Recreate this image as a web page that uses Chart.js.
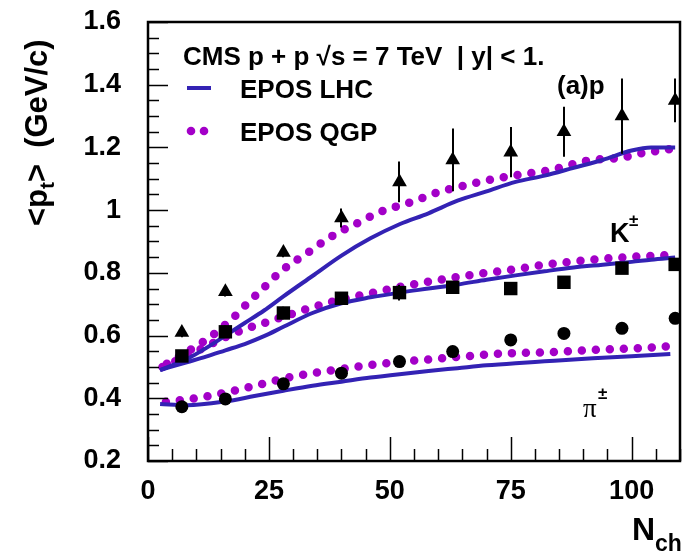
<!DOCTYPE html>
<html>
<head>
<meta charset="utf-8">
<script src="https://cdn.jsdelivr.net/npm/chart.js@4.4.0/dist/chart.umd.min.js"></script>
<style>
    body { margin: 0; background: #fff; }
    canvas { display: block; }
</style>
</head>
<body>
<canvas id="ptChart" width="683" height="555"></canvas>
<script>
// CMS data points: multiplicity bins and mean pt (GeV/c)
const nchBins = [7, 16, 28, 40, 52, 63, 75, 86, 98, 109];
const protonPt = [0.61, 0.74, 0.865, 0.975, 1.09, 1.16, 1.185, 1.25, 1.30, 1.35];
const protonErr = [0.015, 0.015, 0.015, 0.03, 0.065, 0.10, 0.08, 0.08, 0.12, 0.07];
const kaonPt = [0.535, 0.612, 0.672, 0.719, 0.737, 0.754, 0.75, 0.77, 0.815, 0.827];
const kaonErr = [0.01, 0.02, 0.02, 0.02, 0.025, 0.02, 0.01, 0.01, 0.01, 0.01];
const pionPt = [0.373, 0.398, 0.446, 0.48, 0.517, 0.549, 0.586, 0.607, 0.623, 0.655];
const pionErr = [0.01, 0.01, 0.01, 0.01, 0.01, 0.01, 0.01, 0.01, 0.01, 0.01];

// EPOS LHC curves
const lhcX = [2.5, 8, 12, 16, 20, 24, 28, 34, 40, 46, 52, 58, 64, 70, 76, 82, 88, 94, 100, 104, 109];
const lhcProton = [0.49, 0.525, 0.56, 0.60, 0.64, 0.68, 0.725, 0.79, 0.855, 0.91, 0.955, 0.99, 1.03, 1.06, 1.09, 1.11, 1.135, 1.16, 1.19, 1.20, 1.20];
const lhcKaon = [0.49, 0.515, 0.533, 0.553, 0.573, 0.598, 0.628, 0.672, 0.703, 0.722, 0.737, 0.75, 0.763, 0.778, 0.792, 0.805, 0.817, 0.826, 0.835, 0.842, 0.849];
const lhcPionX = [2.5, 8, 16, 22, 28, 34, 40, 46, 52, 58, 64, 70, 76, 82, 88, 94, 100, 108];
const lhcPion = [0.382, 0.378, 0.39, 0.407, 0.424, 0.44, 0.453, 0.466, 0.477, 0.487, 0.496, 0.505, 0.512, 0.518, 0.524, 0.529, 0.534, 0.541];

// EPOS QGP curves
const qgpProtonX = [3.9, 8.7, 11.4, 13.9, 16.3, 18.5, 20.7, 23.1, 27.8, 32.8, 37.8, 43.2, 48.6, 54.3, 60, 65.8, 71.5, 77.3, 83, 91.6, 97.4, 100.3, 103.5, 106.4, 109.5];
const qgpProton = [0.51, 0.554, 0.58, 0.608, 0.639, 0.67, 0.705, 0.74, 0.809, 0.862, 0.915, 0.958, 0.998, 1.025, 1.057, 1.08, 1.099, 1.114, 1.127, 1.16, 1.166, 1.175, 1.186, 1.19, 1.20];
const qgpKaonX = [3, 8, 12, 16, 20, 24, 28, 34, 40, 46, 52, 58, 64, 70, 76, 82, 88, 94, 100, 104, 109.5];
const qgpKaon = [0.50, 0.535, 0.565, 0.595, 0.62, 0.64, 0.66, 0.69, 0.715, 0.735, 0.755, 0.772, 0.787, 0.80, 0.812, 0.826, 0.836, 0.845, 0.851, 0.854, 0.858];
const qgpPionX = [3.7, 9.8, 15.5, 21.3, 29.9, 38.5, 47.1, 56.4, 65.1, 73.7, 83, 91.6, 100.2, 109.5];
const qgpPion = [0.389, 0.40, 0.416, 0.437, 0.469, 0.49, 0.508, 0.522, 0.533, 0.543, 0.547, 0.554, 0.559, 0.567];

// axis ticks
const xMajorTicks = [0, 25, 50, 75, 100];
const yMajorTicks = [0.2, 0.4, 0.6, 0.8, 1, 1.2, 1.4, 1.6];

const FONT = '"Liberation Sans", Arial, sans-serif';
const LHC_COLOR = "#3322b4";
const QGP_COLOR = "#a300c8";

const toPoints = (xs, ys) => xs.map((x, i) => ({ x: x, y: ys[i] }));

function markerSet(label, ys, style, radius) {
    return {
        label: label,
        data: toPoints(nchBins, ys),
        showLine: false,
        pointStyle: style,
        pointRadius: radius,
        pointHoverRadius: radius,
        backgroundColor: "#000",
        borderColor: "#000",
        borderWidth: 0,
    };
}

function lhcCurve(label, xs, ys) {
    return {
        label: label,
        data: toPoints(xs, ys),
        showLine: true,
        borderColor: LHC_COLOR,
        borderWidth: 4,
        pointRadius: 0,
        cubicInterpolationMode: "monotone",
    };
}

function qgpCurve(label, xs, ys) {
    return {
        label: label,
        data: toPoints(xs, ys),
        showLine: true,
        borderColor: QGP_COLOR,
        borderWidth: 8.5,
        borderDash: [0, 14],
        borderCapStyle: "round",
        pointRadius: 0,
        cubicInterpolationMode: "monotone",
    };
}

// frame, inward ticks, error bars, legend and labels
const decorations = {
    id: "decorations",
    afterDraw(chart) {
        const ctx = chart.ctx;
        const xs = chart.scales.x;
        const ys = chart.scales.y;
        const a = chart.chartArea;

        ctx.save();
        ctx.strokeStyle = "#000";
        ctx.fillStyle = "#000";

        // error bars
        ctx.lineWidth = 2;
        [[protonPt, protonErr], [kaonPt, kaonErr], [pionPt, pionErr]].forEach(([vals, errs]) => {
            nchBins.forEach((n, i) => {
                const px = Math.round(xs.getPixelForValue(n));
                ctx.beginPath();
                ctx.moveTo(px, ys.getPixelForValue(vals[i] - errs[i]));
                ctx.lineTo(px, ys.getPixelForValue(vals[i] + errs[i]));
                ctx.stroke();
            });
        });

        // ticks on left axis
        ctx.lineWidth = 1.5;
        for (let k = 0; k <= 28; k++) {
            const v = 0.2 + k * 0.05;
            const py = Math.round(ys.getPixelForValue(v)) + 0.5;
            const len = k % 4 === 0 ? 20 : 11;
            ctx.beginPath();
            ctx.moveTo(a.left, py);
            ctx.lineTo(a.left + len, py);
            ctx.stroke();
        }
        // ticks on bottom axis
        for (let v = 0; v <= 110; v += 5) {
            const px = Math.round(xs.getPixelForValue(v)) + 0.5;
            const len = v % 25 === 0 ? 24 : 12;
            ctx.beginPath();
            ctx.moveTo(px, a.bottom);
            ctx.lineTo(px, a.bottom - len);
            ctx.stroke();
        }

        // frame
        ctx.lineWidth = 2.5;
        ctx.strokeRect(a.left, a.top, a.right - a.left, a.bottom - a.top);

        // header and legend
        ctx.textBaseline = "alphabetic";
        ctx.textAlign = "left";
        ctx.font = "bold 26px " + FONT;
        ctx.fillText("CMS p + p \u221As = 7 TeV  | y| < 1.", 183, 65);
        ctx.fillText("EPOS LHC", 240, 98);
        ctx.fillText("EPOS QGP", 240, 141);
        ctx.fillText("(a)p", 557, 94);

        ctx.strokeStyle = LHC_COLOR;
        ctx.lineWidth = 4;
        ctx.beginPath();
        ctx.moveTo(187, 88);
        ctx.lineTo(211, 88);
        ctx.stroke();
        ctx.fillStyle = QGP_COLOR;
        [191, 204].forEach((cx) => {
            ctx.beginPath();
            ctx.arc(cx, 131, 4.3, 0, Math.PI * 2);
            ctx.fill();
        });
        ctx.fillStyle = "#000";

        // species labels
        ctx.font = "bold 27px " + FONT;
        ctx.fillText("K", 610, 242);
        ctx.font = "bold 17px " + FONT;
        ctx.fillText("\u00B1", 629, 226);
        ctx.font = '27px "Liberation Serif", serif';
        ctx.fillText("\u03C0", 583, 417);
        ctx.font = "bold 17px " + FONT;
        ctx.fillText("\u00B1", 598, 399);

        // x axis title
        ctx.font = "bold 32px " + FONT;
        ctx.fillText("N", 632, 540);
        ctx.font = "bold 23px " + FONT;
        ctx.fillText("ch", 655, 551);

        // y axis title, rotated
        ctx.translate(47, 226);
        ctx.rotate(-Math.PI / 2);
        let cursor = 0;
        const piece = (txt, size, dy) => {
            ctx.font = "bold " + size + "px " + FONT;
            ctx.fillText(txt, cursor, dy);
            cursor += ctx.measureText(txt).width;
        };
        piece("<p", 31, 0);
        piece("t", 21, 7);
        piece(">", 31, 0);
        cursor += 16;
        piece("(GeV/c)", 31, 0);

        ctx.restore();
    },
};

const ctx = document.getElementById("ptChart").getContext("2d");
const ptChart = new Chart(ctx, {
    type: "scatter",
    data: {
        datasets: [
            markerSet("p", protonPt, "triangle", 8.5),
            markerSet("K", kaonPt, "rect", 9.5),
            markerSet("pi", pionPt, "circle", 6.5),
            lhcCurve("EPOS LHC p", lhcX, lhcProton),
            lhcCurve("EPOS LHC K", lhcX, lhcKaon),
            lhcCurve("EPOS LHC pi", lhcPionX, lhcPion),
            qgpCurve("EPOS QGP p", qgpProtonX, qgpProton),
            qgpCurve("EPOS QGP K", qgpKaonX, qgpKaon),
            qgpCurve("EPOS QGP pi", qgpPionX, qgpPion),
        ],
    },
    options: {
        responsive: false,
        animation: false,
        events: [],
        layout: { autoPadding: false, padding: { top: 22, right: 3, left: 0, bottom: 0 } },
        plugins: {
            legend: { display: false },
            tooltip: { enabled: false },
        },
        scales: {
            x: {
                type: "linear",
                min: 0,
                max: 110,
                grid: { display: false, drawTicks: false },
                border: { display: false },
                afterFit: (s) => {
                    s.height = 94;
                    s.paddingLeft = 0;
                    s.paddingRight = 0;
                },
                afterBuildTicks: (s) => { s.ticks = xMajorTicks.map((v) => ({ value: v })); },
                ticks: {
                    padding: 14,
                    color: "#000",
                    font: { family: FONT, size: 27, weight: "bold" },
                    maxRotation: 0,
                    callback: (v) => String(v),
                },
            },
            y: {
                type: "linear",
                min: 0.2,
                max: 1.6,
                grid: { display: false, drawTicks: false },
                border: { display: false },
                afterFit: (s) => {
                    s.width = 148;
                    s.paddingTop = 0;
                    s.paddingBottom = 0;
                },
                afterBuildTicks: (s) => { s.ticks = yMajorTicks.map((v) => ({ value: v })); },
                ticks: {
                    padding: 27,
                    color: "#000",
                    font: { family: FONT, size: 27, weight: "bold" },
                    callback: (v) => String(Math.round(v * 10) / 10),
                },
            },
        },
    },
    plugins: [decorations],
});
</script>
</body>
</html>
